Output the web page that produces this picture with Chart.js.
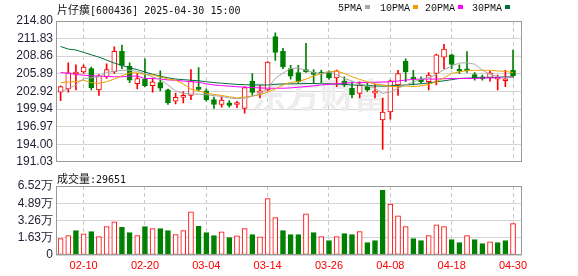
<!DOCTYPE html>
<html>
<head>
<meta charset="utf-8">
<script src="https://cdn.jsdelivr.net/npm/chart.js@4.4.1/dist/chart.umd.min.js"></script>
<style>
    body { margin: 0; background: #fff; }
    #page { position: relative; width: 578px; height: 276px; overflow: hidden; background: #fff; }
    canvas { position: absolute; left: 0; }
    .head { position: absolute; left: 57px; white-space: nowrap; color: #111; line-height: 14px; }
    .head .cjk { font-family: "Noto Sans CJK SC", sans-serif; font-size: 11px; }
    .head .asc { font-family: "DejaVu Sans Mono", monospace; font-size: 10px; }
    .lg { position: absolute; top: 3px; white-space: nowrap; font-family: "Liberation Mono", monospace; font-size: 10px; line-height: 12px; color: #111; }
    .lg i { display: inline-block; width: 5px; height: 4px; margin-left: 3px; vertical-align: 2px; }
</style>
</head>
<body>
<div id="page">
    <canvas id="kline" width="578" height="172" style="top:0"></canvas>
    <canvas id="volume" width="578" height="104" style="top:172px"></canvas>
    <div class="head" id="title" style="top:2px"></div>
    <div class="head" id="volTitle" style="top:171px"></div>
    <div id="legend"></div>
</div>
<script>
// Stock info
const stockName = '片仔癀';
const stockCode = '600436';
const lastTime = '2025-04-30 15:00';

// Trading days
const dates = [
    '2025-02-05', '2025-02-06', '2025-02-07', '2025-02-10', '2025-02-11', '2025-02-12', '2025-02-13', '2025-02-14',
    '2025-02-17', '2025-02-18', '2025-02-19', '2025-02-20', '2025-02-21', '2025-02-24', '2025-02-25', '2025-02-26',
    '2025-02-27', '2025-02-28', '2025-03-03', '2025-03-04', '2025-03-05', '2025-03-06', '2025-03-07', '2025-03-10',
    '2025-03-11', '2025-03-12', '2025-03-13', '2025-03-14', '2025-03-17', '2025-03-18', '2025-03-19', '2025-03-20',
    '2025-03-21', '2025-03-24', '2025-03-25', '2025-03-26', '2025-03-27', '2025-03-28', '2025-03-31', '2025-04-01',
    '2025-04-02', '2025-04-03', '2025-04-07', '2025-04-08', '2025-04-09', '2025-04-10', '2025-04-11', '2025-04-14',
    '2025-04-15', '2025-04-16', '2025-04-17', '2025-04-18', '2025-04-21', '2025-04-22', '2025-04-23', '2025-04-24',
    '2025-04-25', '2025-04-28', '2025-04-29', '2025-04-30'
];
const tickDates = ['02-10', '02-20', '03-04', '03-14', '03-26', '04-08', '04-18', '04-30'];

// OHLC
const open = [
    202.79, 203.34, 205.85, 206.21, 206.76, 203.18, 205.38, 206.21, 209.67, 207.20,
    204.22, 204.94, 203.89, 204.39, 203.18, 201.25, 201.91, 202.24, 203.62, 203.01,
    201.53, 200.70, 200.98, 200.71, 200.04, 204.66, 202.63, 203.18, 212.15, 209.67,
    206.76, 206.10, 206.59, 205.95, 205.90, 206.20, 205.20, 204.66, 203.45, 202.57,
    203.73, 202.63, 198.12, 199.44, 204.00, 208.02, 205.27, 205.00, 204.55, 205.93,
    208.68, 209.07, 206.59, 206.50, 205.77, 205.35, 205.22, 205.00, 204.72, 206.48
];
const high = [
    203.84, 207.75, 207.42, 207.42, 207.03, 205.76, 207.58, 210.44, 210.72, 207.75,
    205.93, 208.41, 205.21, 206.37, 203.30, 202.63, 202.90, 206.59, 206.92, 203.34,
    201.97, 201.97, 201.36, 201.25, 203.73, 205.93, 203.89, 207.97, 212.81, 210.17,
    207.31, 207.31, 211.05, 206.60, 206.50, 206.40, 206.50, 205.38, 204.55, 204.55,
    204.28, 204.10, 201.80, 204.83, 206.48, 208.41, 206.48, 205.38, 206.10, 209.23,
    210.88, 209.23, 207.42, 209.62, 206.10, 205.65, 206.32, 205.65, 206.48, 209.90
];
const low = [
    201.36, 202.79, 203.18, 205.93, 203.18, 202.24, 205.10, 205.93, 206.76, 204.39,
    203.34, 203.73, 202.79, 203.01, 200.70, 200.81, 200.98, 201.53, 203.01, 201.25,
    200.04, 200.26, 200.26, 200.15, 199.22, 202.24, 201.80, 203.01, 208.13, 206.76,
    205.00, 204.28, 206.10, 204.30, 204.40, 205.00, 203.70, 203.73, 201.80, 201.80,
    202.90, 201.80, 193.11, 198.23, 202.24, 204.55, 204.00, 204.28, 203.18, 204.00,
    206.76, 206.76, 205.93, 206.10, 204.83, 204.83, 204.66, 203.18, 203.73, 205.27
];
const close = [
    203.73, 206.04, 205.98, 207.03, 203.56, 205.54, 206.59, 209.67, 207.31, 204.83,
    205.10, 203.84, 204.55, 203.45, 200.98, 201.91, 202.13, 204.66, 203.23, 201.53,
    200.70, 201.47, 200.54, 200.98, 203.56, 202.74, 203.01, 207.86, 209.51, 207.03,
    205.50, 204.55, 206.21, 205.80, 205.85, 205.20, 206.37, 204.00, 202.35, 204.00,
    203.18, 202.90, 199.44, 204.72, 205.93, 206.21, 205.00, 204.55, 205.65, 209.07,
    210.06, 207.47, 206.32, 206.40, 205.10, 205.05, 206.04, 205.22, 204.83, 205.55
];

// Moving averages
const ma5 = [
    202.90, 203.34, 204.00, 205.10, 205.20, 205.38, 206.10, 206.32, 206.48, 206.48,
    206.30, 205.93, 205.38, 204.94, 204.00, 203.00, 202.60, 202.46, 202.46, 202.35,
    202.20, 202.08, 201.80, 201.69, 201.75, 202.10, 202.50, 203.40, 205.10, 206.00,
    206.76, 206.87, 206.48, 206.10, 205.93, 206.21, 205.77, 205.10, 204.66, 204.11,
    203.90, 203.40, 202.60, 202.80, 203.45, 204.00, 204.50, 205.00, 205.20, 205.77,
    206.60, 207.20, 207.70, 207.75, 207.50, 206.50, 205.77, 205.44, 205.27, 205.30
];
const ma10 = [
    204.39, 204.50, 204.55, 204.83, 204.39, 204.28, 204.55, 205.00, 205.55, 206.04,
    206.04, 205.77, 205.70, 205.38, 205.00, 204.80, 204.17, 203.30, 203.00, 202.63,
    202.40, 202.24, 202.00, 201.80, 201.97, 202.13, 202.35, 202.79, 203.30, 204.00,
    204.45, 204.55, 205.00, 205.50, 205.90, 206.21, 206.37, 205.93, 205.38, 204.94,
    204.55, 204.17, 204.00, 203.73, 203.73, 203.84, 203.73, 203.84, 204.10, 204.55,
    205.20, 205.93, 206.21, 206.43, 206.48, 206.48, 206.48, 206.37, 206.30, 206.10
];
const ma20 = [
    206.10, 206.00, 205.77, 205.65, 205.55, 205.50, 205.45, 205.38, 205.38, 205.50,
    205.50, 205.10, 205.10, 205.00, 204.85, 204.80, 204.66, 204.55, 204.45, 204.20,
    204.00, 203.90, 203.80, 203.70, 203.62, 203.56, 203.50, 203.45, 203.45, 203.45,
    203.50, 203.62, 203.73, 203.84, 204.00, 204.10, 204.20, 204.33, 204.39, 204.39,
    204.45, 204.45, 204.50, 204.55, 204.66, 204.83, 204.94, 205.00, 205.00, 205.00,
    205.05, 205.10, 205.10, 205.10, 205.10, 205.16, 205.20, 205.20, 205.27, 205.38
];
const ma30 = [
    210.50, 210.06, 209.90, 209.50, 209.10, 208.70, 208.20, 207.70, 207.30, 206.90,
    206.60, 206.20, 205.80, 205.50, 205.20, 205.00, 204.90, 204.80, 204.70, 204.55,
    204.40, 204.30, 204.20, 204.10, 204.05, 204.00, 204.00, 204.00, 204.10, 204.17,
    204.20, 204.20, 204.25, 204.25, 204.20, 204.20, 204.15, 204.10, 204.00, 203.95,
    203.90, 203.85, 203.80, 203.85, 203.95, 204.00, 204.10, 204.20, 204.35, 204.55,
    204.70, 204.90, 205.10, 205.15, 205.20, 205.25, 205.30, 205.30, 205.35, 205.38
];
const maNames = ['5PMA', '10PMA', '20PMA', '30PMA'];

// Volume (shares)
const volume = [
    15540, 18370, 23080, 19970, 22140, 17430, 26850, 31270, 26190, 21200,
    18370, 26850, 24960, 24960, 23080, 19310, 23080, 40690, 27000, 21200,
    18370, 21820, 16490, 18060, 24960, 19310, 17120, 53220, 35330, 23080,
    19310, 19310, 38810, 21200, 17430, 13660, 17430, 20250, 19310, 22140,
    11780, 13660, 61040, 48230, 36930, 26850, 15540, 13660, 18370, 28450,
    26850, 14600, 11780, 18370, 14600, 10830, 12430, 11780, 13660, 29651
];

// Tick labels
const priceTicks = [191.03, 194.00, 196.97, 199.94, 202.92, 205.89, 208.86, 211.83, 214.80];
const volTicks = [0, 16300, 32600, 48900, 65200];
const volTickLabels = ['0', '1.63万', '3.26万', '4.89万', '6.52万'];

// Colors
const UP = '#ff0000';
const DOWN = '#008000';
const maColors = ['#a8a8a8', '#f0a000', '#ff00ff', '#00703c'];
const GRID = '#d4d4d4';
const FRAME = '#999999';

const tickIdx = tickDates.map(d => dates.findIndex(x => x.slice(5) === d));
const X_MIN = -0.6;
const X_MAX = 60.17;

// Header texts
document.getElementById('title').innerHTML =
    '<span class="cjk">' + stockName + '</span><span class="asc">[' + stockCode + '] ' + lastTime + '</span>';
document.getElementById('volTitle').innerHTML =
    '<span class="cjk">成交量</span><span class="asc">:' + volume[volume.length - 1] + '</span>';

const legendLeft = [338, 380, 425, 472];
const legend = document.getElementById('legend');
maNames.forEach((name, k) => {
    const el = document.createElement('div');
    el.className = 'lg';
    el.style.left = legendLeft[k] + 'px';
    el.innerHTML = name + '<i style="background:' + maColors[k] + '"></i>';
    legend.appendChild(el);
});

// Plot frame
const framePlugin = {
    id: 'frame',
    afterDatasetsDraw(chart) {
        const { ctx, chartArea: a } = chart;
        ctx.save();
        ctx.strokeStyle = FRAME;
        ctx.lineWidth = 1;
        ctx.strokeRect(Math.round(a.left) + 0.5, Math.round(a.top) + 0.5,
            Math.round(a.right - a.left) - 1, Math.round(a.bottom - a.top) - 1);
        ctx.restore();
    }
};

// Watermark
const watermarkPlugin = {
    id: 'watermark',
    beforeDatasetsDraw(chart) {
        const ctx = chart.ctx;
        ctx.save();
        ctx.font = 'bold 34px "Noto Sans CJK SC"';
        ctx.fillStyle = '#ededed';
        ctx.textAlign = 'center';
        ctx.textBaseline = 'middle';
        ctx.fillText('东方财富', 320, 95);
        ctx.restore();
    }
};

const isUp = close.map((c, i) => c >= open[i]);
const volUp = close.map((c, i) => i === 0 ? true : c >= close[i - 1]);

const xScale = (showLabels) => ({
    type: 'linear',
    min: X_MIN,
    max: X_MAX,
    offset: false,
    afterBuildTicks: s => { s.ticks = tickIdx.map(v => ({ value: v })); },
    ticks: {
        display: showLabels,
        autoSkip: false,
        maxRotation: 0,
        padding: 4,
        color: UP,
        font: { family: 'Liberation Sans', size: 11 },
        callback: v => dates[v] ? dates[v].slice(5) : ''
    },
    grid: { color: '#c8c8c8', drawTicks: false, offset: false },
    border: { display: false, dash: [4, 3] },
    afterFit: s => { s.height = showLabels ? 21 : 0; }
});

const yTickFont = { family: 'Liberation Sans', size: 12 };

// Price chart
new Chart(document.getElementById('kline'), {
    type: 'bar',
    data: {
        datasets: [
            ...maNames.map((name, k) => ({
                type: 'line',
                label: name,
                data: [ma5, ma10, ma20, ma30][k].map((v, i) => ({ x: i, y: v })),
                borderColor: maColors[k],
                borderWidth: 1,
                pointRadius: 0,
                tension: 0,
                order: 0
            })),
            {
                label: 'body',
                data: dates.map((d, i) => ({ x: i, y: [Math.min(open[i], close[i]), Math.max(open[i], close[i])] })),
                backgroundColor: isUp.map(u => u ? '#ffffff' : DOWN),
                borderColor: isUp.map(u => u ? UP : DOWN),
                borderWidth: 1,
                borderSkipped: false,
                barThickness: 5,
                minBarLength: 2,
                grouped: false,
                order: 1
            },
            {
                label: 'wick',
                data: dates.map((d, i) => ({ x: i, y: [low[i], high[i]] })),
                backgroundColor: isUp.map(u => u ? UP : DOWN),
                borderWidth: 0,
                barThickness: 1,
                grouped: false,
                order: 2
            }
        ]
    },
    options: {
        responsive: false,
        animation: false,
        events: [],
        layout: { padding: { left: 0, right: 56, top: 21, bottom: 6 } },
        plugins: { legend: { display: false }, tooltip: { enabled: false } },
        scales: {
            x: xScale(false),
            y: {
                min: priceTicks[0],
                max: priceTicks[priceTicks.length - 1],
                afterBuildTicks: s => { s.ticks = priceTicks.map(v => ({ value: v })); },
                ticks: { padding: 3, autoSkip: false, color: '#1e1e32', font: yTickFont, callback: v => v.toFixed(2) },
                grid: { color: GRID, drawTicks: false },
                border: { display: false },
                afterFit: s => { s.width = 56; }
            }
        }
    },
    plugins: [watermarkPlugin, framePlugin]
});

// Volume chart
new Chart(document.getElementById('volume'), {
    type: 'bar',
    data: {
        datasets: [{
            label: '成交量',
            data: volume.map((v, i) => ({ x: i, y: v })),
            backgroundColor: volUp.map(u => u ? '#ffffff' : DOWN),
            borderColor: volUp.map(u => u ? UP : DOWN),
            borderWidth: 1,
            borderSkipped: false,
            barThickness: 5,
            grouped: false
        }]
    },
    options: {
        responsive: false,
        animation: false,
        events: [],
        layout: { padding: { left: 0, right: 56, top: 14, bottom: 0 } },
        plugins: { legend: { display: false }, tooltip: { enabled: false } },
        scales: {
            x: xScale(true),
            y: {
                min: 0,
                max: volTicks[volTicks.length - 1],
                afterBuildTicks: s => { s.ticks = volTicks.map(v => ({ value: v })); },
                ticks: { padding: 3, autoSkip: false, color: '#1e1e32', font: yTickFont, callback: (v, i) => volTickLabels[i] },
                grid: { color: GRID, drawTicks: false },
                border: { display: false },
                afterFit: s => { s.width = 56; }
            }
        }
    },
    plugins: [framePlugin]
});
</script>
</body>
</html>
